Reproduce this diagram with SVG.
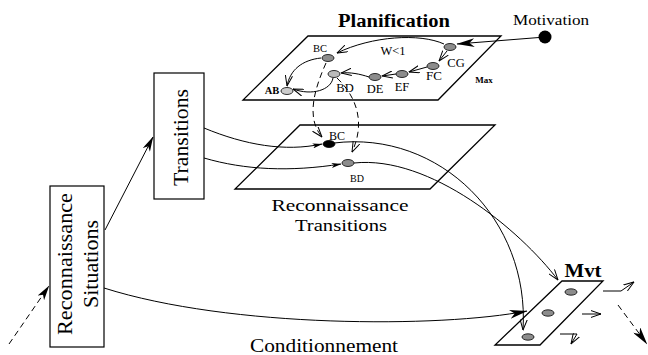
<svg xmlns="http://www.w3.org/2000/svg" width="648" height="355" viewBox="0 0 648 355">
<style>
text{font-family:"Liberation Serif","Times New Roman",serif;fill:#000}
.plane{fill:none;stroke:#000;stroke-width:1.3}
.box{fill:#fff;stroke:#000;stroke-width:1.2}
.n{fill:#8c8c8c;stroke:#000;stroke-width:0.8}
.c{fill:none;stroke:#000;stroke-width:1}
.d{fill:none;stroke:#000;stroke-width:1;stroke-dasharray:6,4}
.ov{marker-end:url(#ov)}
.fb{marker-end:url(#fb)}
.fm{marker-end:url(#fm)}
.fs{marker-end:url(#fs)}
</style>
<defs>
<marker id="ov" viewBox="0 0 11 8" markerWidth="11" markerHeight="8" refX="10.5" refY="4" orient="auto" markerUnits="userSpaceOnUse"><path d="M0,0.4 L10.5,4 L0,7.6" fill="none" stroke="#000" stroke-width="1"/></marker>
<marker id="fb" viewBox="0 0 18 9" markerWidth="18" markerHeight="9" refX="17.5" refY="4.5" orient="auto" markerUnits="userSpaceOnUse"><path d="M0,0 L18,4.5 L0,9 L5,4.5 z" fill="#000"/></marker>
<marker id="fm" viewBox="0 0 15 8" markerWidth="15" markerHeight="8" refX="14.5" refY="4" orient="auto" markerUnits="userSpaceOnUse"><path d="M0,0 L15,4 L0,8 L4,4 z" fill="#000"/></marker>
<marker id="fs" viewBox="0 0 10 5" markerWidth="10" markerHeight="5" refX="9.5" refY="2.5" orient="auto" markerUnits="userSpaceOnUse"><path d="M0,0 L10,2.5 L0,5 L2.5,2.5 z" fill="#000"/></marker>
</defs>

<g id="planification">
<polygon class="plane" points="308,36 501,36 438,100 243,100"/>
<text x="394" y="27" font-size="18" font-weight="bold" text-anchor="middle" textLength="112" lengthAdjust="spacingAndGlyphs">Planification</text>
<text x="484" y="83" font-size="9" font-weight="bold" text-anchor="middle">Max</text>
<text x="393" y="55" font-size="12.5" text-anchor="middle">W&lt;1</text>
</g>
<g id="motivation">
<circle cx="545" cy="37" r="6.5" fill="#000"/>
<text x="513" y="25" font-size="15" textLength="76" lengthAdjust="spacingAndGlyphs">Motivation</text>
</g>
<g id="node-CG"><ellipse class="n" cx="450" cy="47" rx="6" ry="3.5"/><text x="456" y="67" font-size="12.5" text-anchor="middle">CG</text></g>
<g id="node-FC"><ellipse class="n" cx="433" cy="66" rx="6" ry="3.5"/><text x="434" y="80" font-size="13" text-anchor="middle">FC</text></g>
<g id="node-EF"><ellipse class="n" cx="402" cy="74" rx="6" ry="3.5"/><text x="402" y="91" font-size="12.5" text-anchor="middle">EF</text></g>
<g id="node-DE"><ellipse class="n" cx="375" cy="77" rx="6" ry="3.5"/><text x="375" y="93" font-size="12.5" text-anchor="middle">DE</text></g>
<g id="node-BD"><ellipse fill="#bbb" stroke="#000" stroke-width="0.8" cx="334" cy="74" rx="6" ry="3.5"/><text x="345" y="92" font-size="12.5" text-anchor="middle">BD</text></g>
<g id="node-BC"><ellipse class="n" cx="328" cy="58" rx="6" ry="3.5"/><text x="320" y="52" font-size="10.5" text-anchor="middle">BC</text></g>
<g id="node-AB"><ellipse fill="#ccc" stroke="#000" stroke-width="0.8" cx="287" cy="91" rx="6" ry="3.5"/><text x="272" y="94" font-size="10.5" font-weight="bold" text-anchor="middle">AB</text></g>

<g id="reconnaissance-transitions">
<polygon class="plane" points="300,125 495,125 430,189 235,189"/>
<text x="340" y="211" font-size="17" text-anchor="middle" textLength="137" lengthAdjust="spacingAndGlyphs">Reconnaissance</text>
<text x="341" y="230.5" font-size="17" text-anchor="middle" textLength="92" lengthAdjust="spacingAndGlyphs">Transitions</text>
</g>
<g id="node-BC2"><ellipse fill="#000" stroke="#000" stroke-width="0.8" cx="329" cy="144" rx="6" ry="3.5"/><text x="337" y="140" font-size="12" text-anchor="middle">BC</text></g>
<g id="node-BD2"><ellipse class="n" cx="348" cy="163" rx="6" ry="3.5"/><text x="357" y="182" font-size="10" text-anchor="middle">BD</text></g>

<g id="transitions-box">
<rect class="box" x="154" y="73" width="50" height="126"/>
<text transform="translate(188,137.5) rotate(-90)" font-size="20" text-anchor="middle" textLength="97" lengthAdjust="spacingAndGlyphs">Transitions</text>
</g>
<g id="reconnaissance-situations">
<rect class="box" x="50" y="186" width="54" height="161"/>
<text transform="translate(72,264) rotate(-90)" font-size="20" text-anchor="middle" textLength="142" lengthAdjust="spacingAndGlyphs">Reconnaissance</text>
<text transform="translate(98,264) rotate(-90)" font-size="20" text-anchor="middle" textLength="88" lengthAdjust="spacingAndGlyphs">Situations</text>
</g>

<g id="mvt">
<polygon class="plane" points="562,281 603,281 540,345 495,345"/>
<text x="583" y="277" font-size="18" font-weight="bold" text-anchor="middle" textLength="37" lengthAdjust="spacingAndGlyphs">Mvt</text>
<ellipse class="n" cx="571" cy="292" rx="6" ry="3.2"/>
<ellipse class="n" cx="548" cy="313" rx="6" ry="3.2"/>
<ellipse class="n" cx="528" cy="337" rx="6" ry="3.2"/>
</g>

<g id="conditionnement">
<text x="250" y="352" font-size="19" textLength="148" lengthAdjust="spacingAndGlyphs">Conditionnement</text>
</g>

<g id="connectors">
<path class="c fb" d="M539,37.5 L457,44"/>
<path class="c ov" d="M444,44 C420,33 372,36 337,53"/>
<path class="c ov" d="M447,51 L439,61"/>
<path class="c ov" d="M427,67 L409,72"/>
<path class="c ov" d="M396,74 L382,76"/>
<path class="c ov" d="M369,77 C360,74 350,72 341,73"/>
<path class="c ov" d="M321,58 C302,60 290,70 287,86"/>
<path class="c ov" d="M333,78 C331,90 312,96 293,89"/>
<path class="d ov" d="M326,63 C314,90 306,118 322,137"/>
<path class="d ov" d="M337,78 C356,96 366,122 352,152"/>
<path class="c fs" d="M204,128 C245,145 285,152 322,144"/>
<path class="c fs" d="M204,158 C245,170 290,172 341,164"/>
<path class="c ov" d="M334,143 C440,130 530,220 523,330"/>
<path class="c ov" d="M354,163 C430,155 520,230 558,280"/>
<path class="c fm" d="M105,230 L153,137"/>
<path class="d fm" d="M9,344 L49,286"/>
<path class="c fb" d="M104,288 C230,328 440,328 527,311"/>
<path class="c ov" d="M603,291 H621 L634,282"/>
<path class="c ov" d="M582,314 H601"/>
<path class="c ov" d="M560,334 H577 L571,344"/>
<path class="d fb" d="M618,305 L647,344"/>
</g>
</svg>
